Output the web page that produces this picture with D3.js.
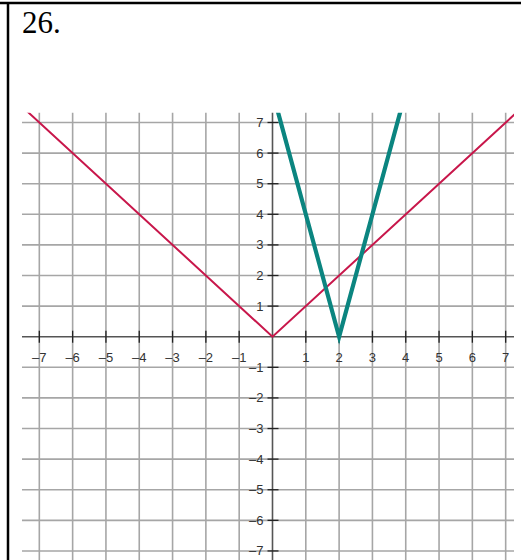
<!DOCTYPE html>
<html>
<head>
<meta charset="utf-8">
<script src="https://cdn.jsdelivr.net/npm/d3@7"></script>
<style>
  html, body { margin: 0; padding: 0; background: #fff; }
  svg { display: block; }
</style>
</head>
<body>
<svg id="chart" width="521" height="560"></svg>
<script>
// Problem number shown in the cell header
const problemLabel = "26.";

// Tick values along each axis (0 is left unlabeled)
const xTicks = [-7, -6, -5, -4, -3, -2, -1, 1, 2, 3, 4, 5, 6, 7];
const yTicks = [-7, -6, -5, -4, -3, -2, -1, 1, 2, 3, 4, 5, 6, 7];

// Vertices of the two graphs: y = |x| and y = 4|x - 2|
const redPoints = [[-8, 8], [0, 0], [8, 8]];
const greenPoints = [[0, 8], [2, 0], [4, 8]];

const svg = d3.select("#chart");

// Table-cell border (top and left edges)
svg.append("line").attr("x1", 0).attr("x2", 521).attr("y1", 3).attr("y2", 3)
  .attr("stroke", "#000").attr("stroke-width", 2.5);
svg.append("line").attr("x1", 8).attr("x2", 8).attr("y1", 2).attr("y2", 560)
  .attr("stroke", "#000").attr("stroke-width", 2.5);

svg.append("text")
  .attr("x", 22).attr("y", 33)
  .attr("font-family", "'Liberation Serif', 'Times New Roman', serif")
  .attr("font-size", 31)
  .attr("fill", "#000")
  .text(problemLabel);

// Coordinate plane
const x = d3.scaleLinear().domain([-7.52, 7.25]).range([22, 514]);
const y = d3.scaleLinear().domain([-7.6, 7.32]).range([569.3, 112.7]);

const [x0, x1] = x.range();
const yTop = y.range()[1], yBot = y.range()[0];

svg.append("defs").append("clipPath").attr("id", "plot")
  .append("rect").attr("x", x0).attr("y", yTop)
  .attr("width", x1 - x0).attr("height", yBot - yTop);

const grid = svg.append("g").attr("stroke", "#a6a6a6").attr("stroke-width", 1.6);
grid.selectAll("line.v").data(xTicks).join("line")
  .attr("x1", d => x(d)).attr("x2", d => x(d))
  .attr("y1", yTop).attr("y2", yBot);
grid.selectAll("line.h").data(yTicks).join("line")
  .attr("x1", x0).attr("x2", x1)
  .attr("y1", d => y(d)).attr("y2", d => y(d));

// Axes
const axisColor = "#555";
svg.append("line").attr("x1", x0).attr("x2", x1).attr("y1", y(0)).attr("y2", y(0))
  .attr("stroke", axisColor).attr("stroke-width", 1.6);
svg.append("line").attr("x1", x(0)).attr("x2", x(0)).attr("y1", yTop).attr("y2", yBot)
  .attr("stroke", axisColor).attr("stroke-width", 1.6);

const tickColor = "#222";
svg.append("g").selectAll("line").data(xTicks).join("line")
  .attr("x1", d => x(d)).attr("x2", d => x(d))
  .attr("y1", y(0) - 6).attr("y2", y(0) + 6)
  .attr("stroke", tickColor).attr("stroke-width", 1.3);
svg.append("g").selectAll("line").data(yTicks).join("line")
  .attr("x1", x(0) - 5).attr("x2", x(0) + 6)
  .attr("y1", d => y(d)).attr("y2", d => y(d))
  .attr("stroke", tickColor).attr("stroke-width", 1.3);

const fmt = d => (d < 0 ? "\u2013" + Math.abs(d) : String(d));
const labelFont = "'Liberation Sans', Arial, sans-serif";

svg.append("g").selectAll("text").data(xTicks).join("text")
  .attr("x", d => x(d)).attr("y", y(0) + 25)
  .attr("text-anchor", "middle")
  .attr("font-family", labelFont).attr("font-size", 13)
  .attr("fill", "#333")
  .text(fmt);

svg.append("g").selectAll("text").data(yTicks).join("text")
  .attr("x", x(0) - 9).attr("y", d => y(d) + 4.5)
  .attr("text-anchor", "end")
  .attr("font-family", labelFont).attr("font-size", 13)
  .attr("fill", "#333")
  .text(fmt);

// Graphs
const line = d3.line().x(d => x(d[0])).y(d => y(d[1]));
const curves = svg.append("g").attr("clip-path", "url(#plot)");
curves.append("path").datum(redPoints).attr("d", line)
  .attr("fill", "none").attr("stroke", "#c8174b").attr("stroke-width", 2);
curves.append("path").datum(greenPoints).attr("d", line)
  .attr("fill", "none").attr("stroke", "#0b8580").attr("stroke-width", 4.2);
</script>
</body>
</html>
